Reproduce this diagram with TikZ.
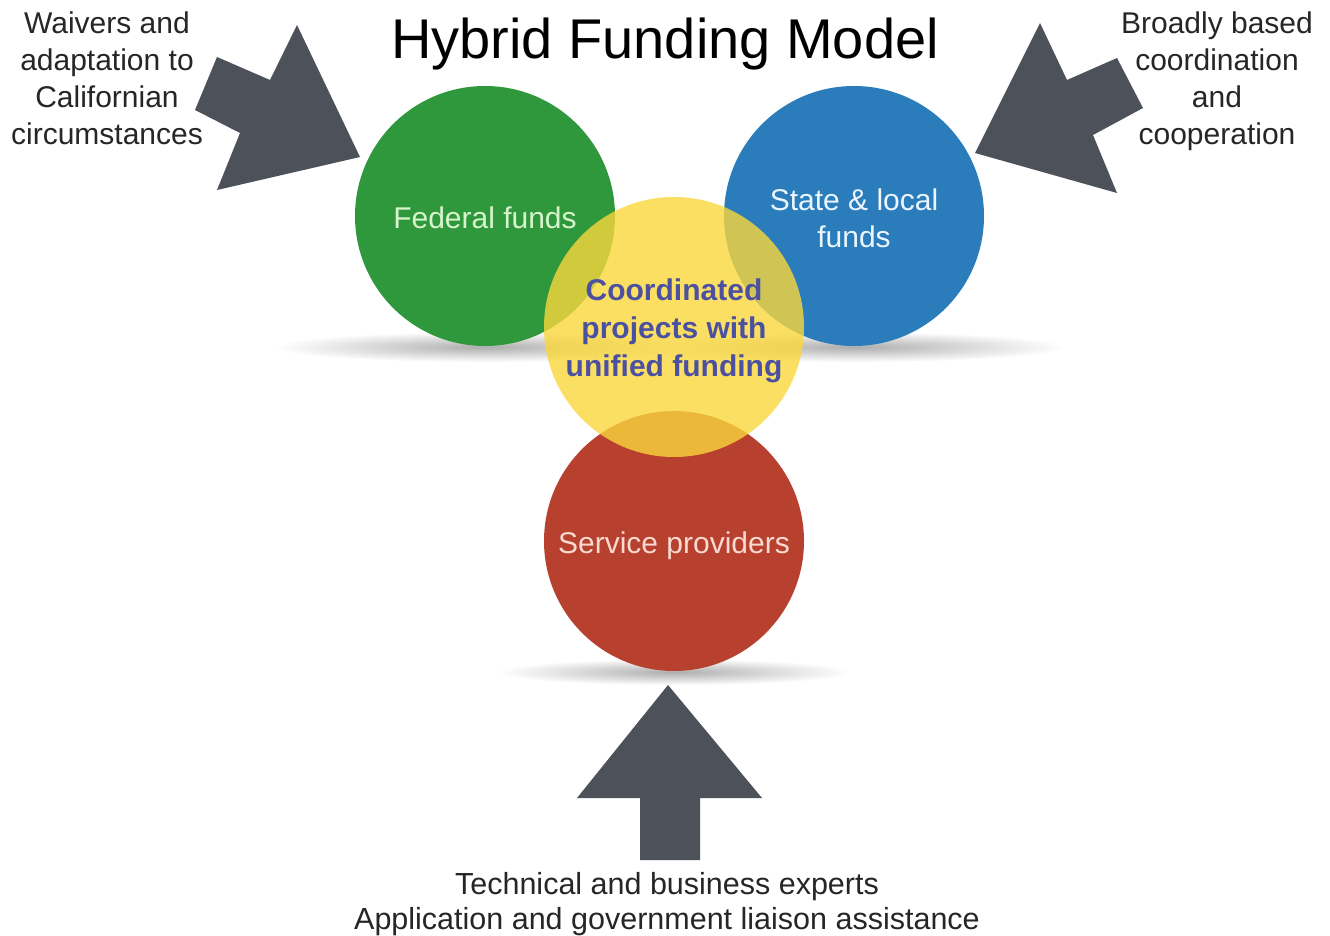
\documentclass[tikz,border=0pt]{standalone}
\usepackage{fontspec}
\setmainfont{Liberation Sans}
\usetikzlibrary{fadings}
\definecolor{fedgreen}{RGB}{48,152,60}
\definecolor{stateblue}{RGB}{42,124,186}
\definecolor{servred}{RGB}{183,64,46}
\definecolor{coordyellow}{RGB}{250,215,60}
\definecolor{arrowgray}{RGB}{77,81,89}
\definecolor{fedtext}{RGB}{215,245,205}
\definecolor{statetext}{RGB}{235,245,255}
\definecolor{servtext}{RGB}{248,218,208}
\definecolor{coordtext}{RGB}{75,80,160}
\tikzfading[name=shadowfade, inner color=transparent!55, outer color=transparent!100]
\begin{document}
\begin{tikzpicture}[x=1pt,y=-1pt,
  ball/.style={circle, minimum size=260pt, inner sep=0pt},
  balltext/.style={align=center, inner sep=0pt,
    font=\fontsize{30}{37}\selectfont},
  lbl/.style={align=center, inner sep=0pt, anchor=north, text=black!85,
    font=\fontsize{30}{37}\selectfont},
  softshadow/.style={fill=black!70, path fading=shadowfade},
  bigarrow/.style={fill=arrowgray}]
\useasboundingbox (0,0) rectangle (1330,936);
\fill[white] (0,0) rectangle (1330,936);

% shadows
\fill[softshadow] (485,347) ellipse [x radius=210, y radius=15];
\fill[softshadow] (854,347) ellipse [x radius=210, y radius=15];
\fill[softshadow] (674,672) ellipse [x radius=175, y radius=13];

% circles
\node[ball, fill=fedgreen] (fed) at (485,216) {};
\node[ball, fill=stateblue] (state) at (854,216) {};
\node[ball, fill=servred] (serv) at (674,541) {};
\node[ball, fill=coordyellow, fill opacity=0.8] (coord) at (674,327) {};

% circle texts
\node[balltext, text=fedtext] (fedlabel) at ([yshift=-5pt]fed.center) {\strut Federal funds};
\node[balltext, text=statetext] (statelabel) at ([yshift=-6pt]state.center) {\strut State \& local\\\strut funds};
\node[balltext, text=servtext] (servlabel) at ([yshift=-5pt]serv.center) {\strut Service providers};
\node[balltext, text=coordtext, font=\fontsize{30}{38}\bfseries\selectfont] (coordlabel)
  at ([yshift=-4pt]coord.center) {\strut Coordinated\\\strut projects with\\\strut unified funding};

% title
\node[anchor=base, inner sep=0pt, font=\fontsize{56}{60}\selectfont] (title) at (665,59) {Hybrid Funding Model};

% block arrows
\coordinate (ltip) at (360,157);
\coordinate (rtip) at (975,153);
\coordinate (btip) at (668,685);
\fill[bigarrow] (ltip) -- (297,25) -- (270,80) -- (217,57) -- (195,110) -- (240,133) -- (217,190) -- cycle;
\fill[bigarrow] (rtip) -- (1040,23) -- (1067,80) -- (1117,58) -- (1143,108) -- (1093,135) -- (1117,193) -- cycle;
\fill[bigarrow] (btip) -- (762,798) -- (700,798) -- (700,860) -- (640,860) -- (640,798) -- (577,798) -- cycle;

% labels
\node[lbl] (leftlbl) at (107,7) {\strut Waivers and\\\strut adaptation to\\\strut Californian\\\strut circumstances};
\node[lbl] (rightlbl) at (1217,7) {\strut Broadly based\\\strut coordination\\\strut and\\\strut cooperation};
\node[lbl, font=\fontsize{30.5}{35}\selectfont] (bottomlbl) at (667,869.5) {\strut Technical and business experts\\\strut Application and government liaison assistance};
\end{tikzpicture}
\end{document}
